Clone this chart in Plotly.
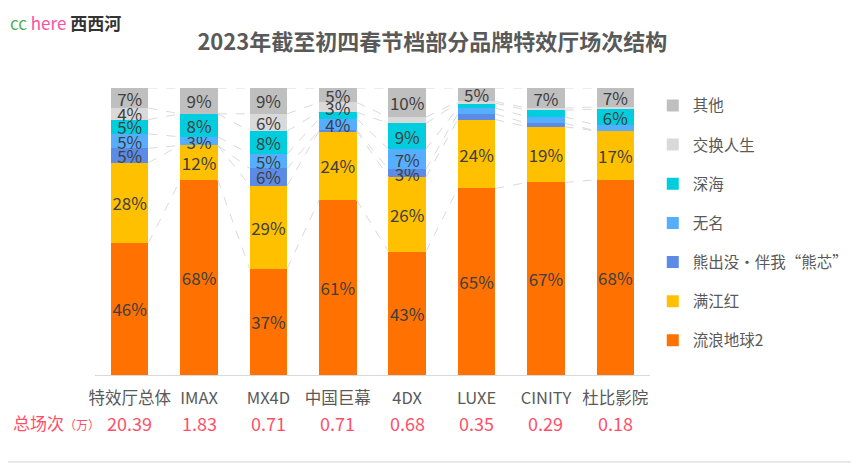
import plotly.graph_objects as go

FONT = "Noto Sans CJK SC"

categories = ["特效厅总体", "IMAX", "MX4D", "中国巨幕", "4DX", "LUXE", "CINITY", "杜比影院"]
total_screenings = ["20.39", "1.83", "0.71", "0.71", "0.68", "0.35", "0.29", "0.18"]

# stacked from bottom to top (percent share)
series_names = ["流浪地球2", "满江红", "熊出没·伴我“熊芯”", "无名", "深海", "交换人生", "其他"]
s_liulang = [46, 68, 37, 61, 43, 65, 67.1, 68]
s_manjiang = [28, 12, 29, 24, 26, 24, 19.4, 17]
s_xiongchumo = [5, 0, 6, 0.4, 2.7, 2, 1.2, 0]
s_wuming = [5, 3, 5, 3.9, 7, 2, 2.3, 2]
s_shenhai = [5, 8, 8, 2.3, 9, 1.7, 2.3, 5.6]
s_jiaohuan = [4, 0, 6, 3.4, 2.1, 0.6, 0.7, 0.8]
s_qita = [7, 9, 9, 5, 10.2, 4.7, 7, 6.6]
series_values = [s_liulang, s_manjiang, s_xiongchumo, s_wuming, s_shenhai, s_jiaohuan, s_qita]
series_colors = ["#FF7100", "#FFC000", "#5B8BE6", "#55AEFF", "#00CEDE", "#D9D9D9", "#BFBFBF"]

BAR_W = 0.54
xs = list(range(len(categories)))

fig = go.Figure()
n = len(series_names)
for k, (name, vals, col) in enumerate(zip(series_names, series_values, series_colors)):
    fig.add_trace(go.Bar(
        x=xs, y=vals, name=name, width=BAR_W,
        marker=dict(color=col, line=dict(width=0)),
        text=[f"{v:.0f}%" if v >= 2.5 else "" for v in vals],
        textposition="inside", insidetextanchor="middle", textangle=0,
        textfont=dict(family=FONT, size=17, color="#404040"),
        legendgroup=name, legendrank=100 + (n - k),
    ))

# dashed connector lines between adjacent bars at each cumulative boundary
lx, ly = [], []
cum = [[0] * len(categories)]
for vals in series_values:
    cum.append([a + b for a, b in zip(cum[-1], vals)])
for level in cum[1:]:
    for i in range(len(categories) - 1):
        lx += [i + BAR_W / 2, i + 1 - BAR_W / 2, None]
        ly += [level[i], level[i + 1], None]
fig.add_trace(go.Scatter(x=lx, y=ly, mode="lines", showlegend=False, hoverinfo="skip",
                         line=dict(color="#DADADA", width=1, dash="dash")))

annotations = []
for i, v in enumerate(total_screenings):
    annotations.append(dict(x=i, y=-0.167, xref="x", yref="paper", text=v, showarrow=False,
                            font=dict(family=FONT, size=18, color="#FF5069"),
                            xanchor="center", yanchor="middle"))
annotations.append(dict(x=0.012, y=-0.167, xref="paper", yref="paper",
                        text="总场次<span style='font-size:12px'>（万）</span>", showarrow=False,
                        font=dict(family=FONT, size=17, color="#FF5069"),
                        xanchor="right", yanchor="middle"))
annotations.append(dict(x=-0.1568, y=1.2787, xref="paper", yref="paper",
                        text="<span style='color:#4CAF50'>cc</span> <span style='color:#FF4FA3'>here</span> "
                             "<b><span style='color:#333333'>西西河</span></b>",
                        showarrow=False, font=dict(family=FONT, size=17),
                        xanchor="left", yanchor="top"))

fig.update_layout(
    width=859, height=464,
    margin=dict(l=87, r=217, t=80, b=97, autoexpand=False),
    paper_bgcolor="white", plot_bgcolor="white",
    barmode="stack",
    font=dict(family=FONT, color="#595959"),
    title=dict(text="<b>2023年截至初四春节档部分品牌特效厅场次结构</b>",
               x=0.494, xref="container", xanchor="center",
               y=1 - 34 / 464, yref="container", yanchor="middle",
               font=dict(family=FONT, size=22, color="#595959")),
    xaxis=dict(range=[-0.5, len(categories) - 0.5], tickvals=xs, ticktext=categories,
               tickfont=dict(family=FONT, size=16.5, color="#595959"),
               showline=True, linecolor="#D9D9D9", linewidth=1,
               showgrid=False, zeroline=False, ticks="", ticklabelstandoff=8),
    yaxis=dict(range=[0, 100], visible=False, fixedrange=True),
    legend=dict(x=1.005, y=0.997, xanchor="left", yanchor="top",
                traceorder="grouped", tracegroupgap=16, maxheight=420,
                font=dict(family=FONT, size=15.5, color="#595959"),
                bgcolor="rgba(0,0,0,0)"),
    uniformtext=dict(minsize=17, mode="show"),
    annotations=annotations,
    shapes=[
        dict(type="line", xref="paper", yref="paper", x0=1.373, x1=1.373, y0=-0.303, y1=1.279,
             line=dict(color="#D0D0D0", width=1)),
        dict(type="line", xref="paper", yref="paper", x0=-0.157, x1=1.373, y0=-0.303, y1=-0.303,
             line=dict(color="#D0D0D0", width=1)),
    ],
)

fig.write_html("out.html")
